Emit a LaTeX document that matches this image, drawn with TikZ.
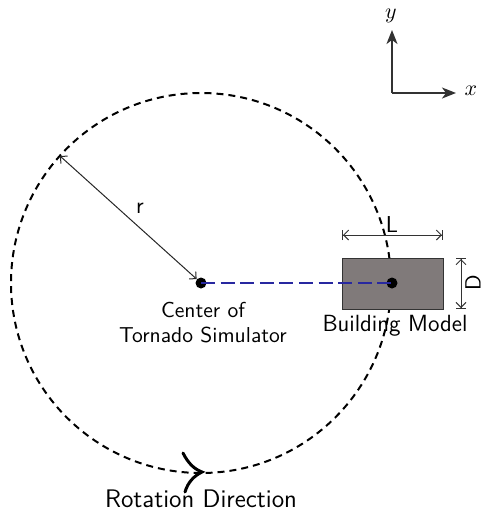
\documentclass[tikz,border=0pt]{standalone}
\usetikzlibrary{arrows.meta,calc}
\definecolor{boxgray}{RGB}{128,122,122}
\definecolor{lineblue}{RGB}{40,40,160}
\definecolor{axisgray}{RGB}{50,50,50}
\begin{document}
\begin{tikzpicture}[x=0.5pt,y=-0.5pt,
  dotnode/.style={circle,fill=black,minimum size=5.5pt,inner sep=0pt},
  dimarrow/.style={line width=0.5pt,draw=black!80,
     {Bar[width=5pt,line width=0.5pt]Straight Barb[length=2.5pt,width=5pt,line width=0.5pt]}-{Straight Barb[length=2.5pt,width=5pt,line width=0.5pt]Bar[width=5pt,line width=0.5pt]}},
  radarrow/.style={line width=0.5pt,draw=black!85,
     {Straight Barb[length=2.5pt,width=5pt,line width=0.5pt]}-{Straight Barb[length=2.5pt,width=5pt,line width=0.5pt]}},
  axisarrow/.style={line width=0.8pt,draw=axisgray,-{Stealth[length=7pt,width=5.5pt,inset=2pt]}},
  lbl/.style={font=\sffamily,inner sep=0pt},
  circdash/.style={line width=1pt,dash pattern=on 3.5pt off 2.5pt},
  bluedash/.style={line width=1.3pt,draw=lineblue,dash pattern=on 7pt off 2.8pt}
]
\path[use as bounding box] (0,0) rectangle (483,526);
\clip (0,0) rectangle (483,526);

% coordinate axes
\coordinate (O) at (392,93);
\coordinate (Ytip) at (392,30);
\coordinate (Xtip) at (456,93);
\draw[axisarrow] (O) -- (Ytip);
\draw[axisarrow] (O) -- (Xtip);
\node[inner sep=0pt,anchor=base] (ylab) at (391,18) {\fontsize{11}{12}\selectfont $y$};
\node[inner sep=0pt,anchor=base] (xlab) at (471,95) {\fontsize{11}{12}\selectfont $x$};

% dashed circle
\coordinate (Cc) at (201,283);
\draw[circdash] (Cc) circle (95pt);

% building
\node[draw=black!80,line width=0.5pt,fill=boxgray,minimum width=50.5pt,minimum height=25.5pt,inner sep=0pt] (bldg) at (392.5,283.5) {};
\node[dotnode] (B) at (392,283) {};
\node[dotnode] (C) at (201,283) {};
\draw[bluedash] (C.center) -- (B.center);

% radius
\coordinate (R) at (60,156);
\draw[radarrow] (C) -- (R);
\node[lbl,font=\sffamily\fontsize{11.5}{12}\selectfont] (rlab) at (140,208) {r};

% L dimension
\coordinate (L1) at (342,235);
\coordinate (L2) at (443,235);
\draw[dimarrow] (L1) -- (L2);
\node[lbl,anchor=base,font=\sffamily\fontsize{11.5}{12}\selectfont] (Llab) at (392,232) {L};

% D dimension
\coordinate (D1) at (461,258);
\coordinate (D2) at (461,309);
\draw[dimarrow] (D1) -- (D2);
\node[lbl,rotate=90,anchor=north,font=\sffamily\fontsize{11}{12}\selectfont] (Dlab) at (465,283) {D};

% labels
\node[lbl,anchor=north,align=center,font=\sffamily\fontsize{10.8}{12.5}\selectfont] (clab) at (203,302) {Center of\\Tornado Simulator};
\node[lbl,anchor=base,font=\sffamily\fontsize{11.7}{13}\selectfont] (blab) at (395,331) {Building Model};
\node[lbl,anchor=base,font=\sffamily\fontsize{12.7}{14}\selectfont] (rotlab) at (201,507) {Rotation Direction};

% rotation chevron
\draw[line width=1.5pt,line cap=round,line join=miter] (183,453) .. controls (188,463) and (194,469) .. (202,472)
   .. controls (194,476) and (188,482) .. (185,492);
\end{tikzpicture}
\end{document}
